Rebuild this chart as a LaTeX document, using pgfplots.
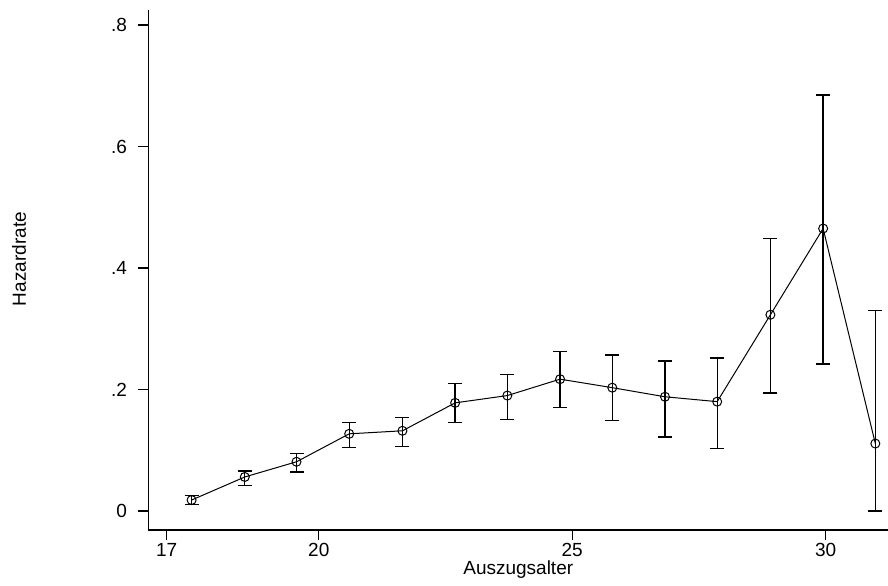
\documentclass[border=0pt]{standalone}
\usepackage{fontspec}
\setmainfont{Liberation Sans}
\usepackage{pgfplots}
\pgfplotsset{compat=1.18}
\begin{document}
\begin{tikzpicture}
\useasboundingbox (-148.5bp,-56bp) rectangle (739.5bp,530bp);
\begin{axis}[
    at={(0,0)}, anchor=south west,
    scale only axis,
    width=739.5bp, height=520bp,
    xmin=16.64, xmax=31.23,
    ymin=-0.0313, ymax=0.8247,
    axis x line=bottom, axis y line=left,
    axis line style={-, line width=1.1bp},
    xtick={17,20,25,30},
    ytick={0,0.2,0.4,0.6,0.8},
    yticklabels={0,.2,.4,.6,.8},
    tick align=outside,
    major tick length=10bp,
    tick style={black, line width=1.1bp},
    ticklabel style={font=\fontsize{19bp}{22bp}\selectfont},
    yticklabel style={xshift=-8bp},
    /pgf/number format/assume math mode=true,
    xlabel={Auszugsalter},
    ylabel={Hazardrate},
    label style={font=\fontsize{19bp}{22bp}\selectfont},
    xlabel style={at={(axis description cs:0.5,-0.0769)}, anchor=center},
    ylabel style={at={(axis description cs:-0.1751,0.521)}, anchor=center},
]
\addplot[black, line width=1bp, mark=o, mark size=4.5bp,
    mark options={line width=1bp},
    error bars/.cd, y dir=both, y explicit,
    error bar style={line width=1.3bp},
    error mark options={line width=1.3bp, mark size=7bp, rotate=90}]
coordinates {
    (17.49,0.018) += (0,0.007) -= (0,0.007)
    (18.54,0.056) += (0,0.010) -= (0,0.014)
    (19.56,0.081) += (0,0.014) -= (0,0.017)
    (20.60,0.127) += (0,0.019) -= (0,0.023)
    (21.65,0.132) += (0,0.022) -= (0,0.026)
    (22.69,0.178) += (0,0.032) -= (0,0.032)
    (23.72,0.190) += (0,0.035) -= (0,0.039)
    (24.76,0.217) += (0,0.045) -= (0,0.047)
    (25.79,0.203) += (0,0.054) -= (0,0.054)
    (26.83,0.188) += (0,0.059) -= (0,0.066)
    (27.86,0.180) += (0,0.072) -= (0,0.077)
    (28.91,0.323) += (0,0.126) -= (0,0.129)
    (29.95,0.465) += (0,0.220) -= (0,0.223)
    (30.98,0.111) += (0,0.219) -= (0,0.111)
};
\end{axis}
\end{tikzpicture}
\end{document}
